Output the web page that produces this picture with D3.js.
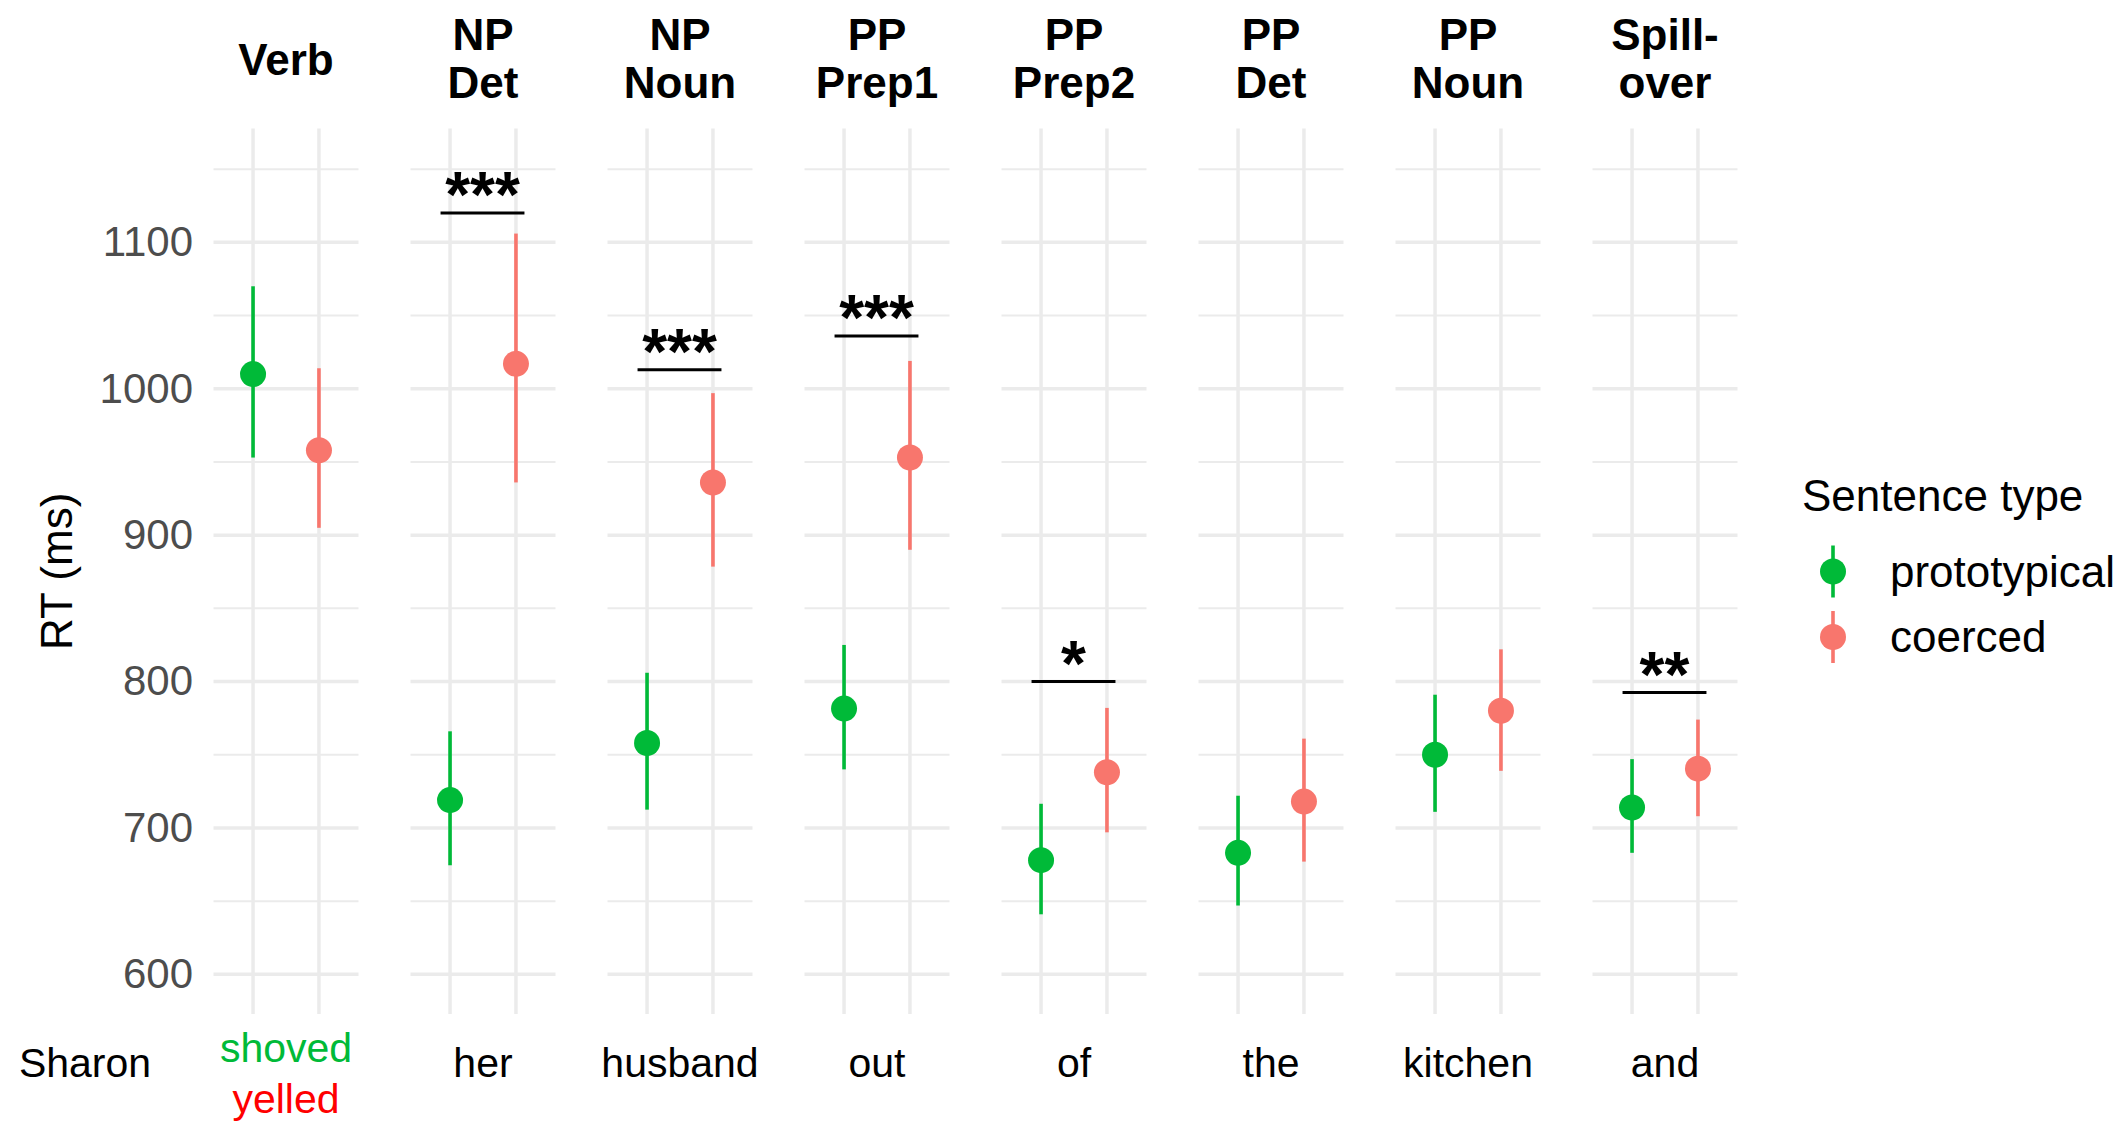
<!DOCTYPE html>
<html>
<head>
<meta charset="utf-8">
<script src="https://cdn.jsdelivr.net/npm/d3@7"></script>
<style>
  html, body { margin: 0; padding: 0; background: #fff; }
  svg { display: block; font-family: "Liberation Sans", Arial, sans-serif; }
</style>
</head>
<body>
<svg id="chart" width="2126" height="1121"></svg>
<script>
// ---------------- data ----------------
const regions = ["Verb", "NP Det", "NP Noun", "PP Prep1", "PP Prep2", "PP Det", "PP Noun", "Spillover"];
const stripLine1 = ["", "NP", "NP", "PP", "PP", "PP", "PP", "Spill-"];
const stripLine2 = ["Verb", "Det", "Noun", "Prep1", "Prep2", "Det", "Noun", "over"];
const words = ["", "her", "husband", "out", "of", "the", "kitchen", "and"];
const verbWords = ["shoved", "yelled"];
const firstWord = "Sharon";
const sentenceTypes = ["prototypical", "coerced"];

const protoMean = [1010, 719, 758, 781.5, 678, 683, 750, 714];
const protoLow  = [953, 674.5, 712.5, 740, 641, 647, 711, 683];
const protoHigh = [1070, 766, 806, 825, 716.5, 722, 791, 747];

const coercedMean = [958, 1017, 936, 953, 738, 718, 780, 740.5];
const coercedLow  = [905, 936, 878.5, 890, 697, 677, 739, 708];
const coercedHigh = [1014, 1106, 997, 1019, 782, 761, 822, 774];

const sigRegions = ["NP Det", "NP Noun", "PP Prep1", "PP Prep2", "Spillover"];
const sigY = [1120, 1013, 1036, 800, 792.5];
const sigLabels = ["***", "***", "***", "*", "**"];

const yTicks = [600, 700, 800, 900, 1000, 1100];
const yMinor = [650, 750, 850, 950, 1050, 1150];

// ---------------- setup ----------------
const colors = { prototypical: "#00BA38", coerced: "#F8766D" };
const svg = d3.select("#chart");
svg.append("rect").attr("width", 2126).attr("height", 1121).attr("fill", "#fff");

const panelTop = 128.6, panelBottom = 1014;
const x = d3.scaleBand().domain(regions).range([213.5, 1737.5]).paddingInner(52 / 197).paddingOuter(0);
const xi = d3.scalePoint().domain(sentenceTypes).range([0, x.bandwidth()]).padding(0.6);
const y = d3.scaleLinear().domain([572.9, 1177.7]).range([panelBottom, panelTop]);

const rows = [];
regions.forEach((r, i) => {
  rows.push({ region: r, type: "prototypical", mean: protoMean[i], low: protoLow[i], high: protoHigh[i] });
  rows.push({ region: r, type: "coerced", mean: coercedMean[i], low: coercedLow[i], high: coercedHigh[i] });
});

// grid
const grid = svg.append("g");
regions.forEach(r => {
  const x0 = x(r), x1 = x(r) + x.bandwidth();
  yMinor.forEach(v => grid.append("line").attr("x1", x0).attr("x2", x1).attr("y1", y(v)).attr("y2", y(v))
    .attr("stroke", "#EBEBEB").attr("stroke-width", 2));
  yTicks.forEach(v => grid.append("line").attr("x1", x0).attr("x2", x1).attr("y1", y(v)).attr("y2", y(v))
    .attr("stroke", "#EBEBEB").attr("stroke-width", 3.5));
  sentenceTypes.forEach(t => grid.append("line")
    .attr("x1", x(r) + xi(t)).attr("x2", x(r) + xi(t)).attr("y1", panelTop).attr("y2", panelBottom)
    .attr("stroke", "#EBEBEB").attr("stroke-width", 3.5));
});

// y axis
const yAxis = svg.append("g").attr("transform", `translate(${x(regions[0])},0)`)
  .call(d3.axisLeft(y).tickValues(yTicks).tickSize(0).tickPadding(20.5).tickFormat(d3.format("d")));
yAxis.select(".domain").remove();
yAxis.selectAll("text").attr("font-size", 42).attr("fill", "#4D4D4D")
  .attr("font-family", "'Liberation Sans', Arial, sans-serif");

svg.append("text").attr("transform", `translate(${72},${(panelTop + panelBottom) / 2}) rotate(-90)`)
  .attr("text-anchor", "middle").attr("font-size", 44).attr("fill", "#000").text("RT (ms)");

// strip labels
regions.forEach((r, i) => {
  const cx = x(r) + x.bandwidth() / 2;
  if (stripLine1[i]) {
    svg.append("text").attr("x", cx).attr("y", 50).attr("text-anchor", "middle")
      .attr("font-size", 44).attr("font-weight", "bold").text(stripLine1[i]);
    svg.append("text").attr("x", cx).attr("y", 98).attr("text-anchor", "middle")
      .attr("font-size", 44).attr("font-weight", "bold").text(stripLine2[i]);
  } else {
    svg.append("text").attr("x", cx).attr("y", 75).attr("text-anchor", "middle")
      .attr("font-size", 44).attr("font-weight", "bold").text(stripLine2[i]);
  }
});

// point ranges
const marks = svg.append("g");
marks.selectAll("line.range").data(rows).join("line")
  .attr("x1", d => x(d.region) + xi(d.type)).attr("x2", d => x(d.region) + xi(d.type))
  .attr("y1", d => y(d.low)).attr("y2", d => y(d.high))
  .attr("stroke", d => colors[d.type]).attr("stroke-width", 3.6);
marks.selectAll("circle").data(rows).join("circle")
  .attr("cx", d => x(d.region) + xi(d.type)).attr("cy", d => y(d.mean)).attr("r", 13)
  .attr("fill", d => colors[d.type]);

// significance
sigRegions.forEach((r, i) => {
  const x0 = x(r) + xi(sentenceTypes[0]) - 9.5, x1 = x(r) + xi(sentenceTypes[1]) + 8.5;
  svg.append("line").attr("x1", x0).attr("x2", x1).attr("y1", y(sigY[i])).attr("y2", y(sigY[i]))
    .attr("stroke", "#000").attr("stroke-width", 3);
  svg.append("text").attr("x", (x0 + x1) / 2).attr("y", y(sigY[i]) + 4).attr("text-anchor", "middle")
    .attr("font-size", 64).attr("font-weight", "bold").text(sigLabels[i]);
});

// bottom words
svg.append("text").attr("x", 85).attr("y", 1077).attr("text-anchor", "middle").attr("font-size", 41).text(firstWord);
const cx0 = x(regions[0]) + x.bandwidth() / 2;
svg.append("text").attr("x", cx0).attr("y", 1062).attr("text-anchor", "middle").attr("font-size", 41)
  .attr("fill", "#00BA38").text(verbWords[0]);
svg.append("text").attr("x", cx0).attr("y", 1113).attr("text-anchor", "middle").attr("font-size", 41)
  .attr("fill", "#FF0000").text(verbWords[1]);
regions.forEach((r, i) => {
  if (!words[i]) return;
  svg.append("text").attr("x", x(r) + x.bandwidth() / 2).attr("y", 1077).attr("text-anchor", "middle")
    .attr("font-size", 41).text(words[i]);
});

// legend
const lg = svg.append("g");
lg.append("text").attr("x", 1802).attr("y", 511).attr("font-size", 44).text("Sentence type");
const legendY = [571.5, 637];
sentenceTypes.forEach((t, i) => {
  lg.append("line").attr("x1", 1833).attr("x2", 1833).attr("y1", legendY[i] - 26).attr("y2", legendY[i] + 26)
    .attr("stroke", colors[t]).attr("stroke-width", 3.6);
  lg.append("circle").attr("cx", 1833).attr("cy", legendY[i]).attr("r", 13).attr("fill", colors[t]);
  lg.append("text").attr("x", 1890).attr("y", legendY[i] + 15).attr("font-size", 44).text(t);
});
</script>
</body>
</html>
